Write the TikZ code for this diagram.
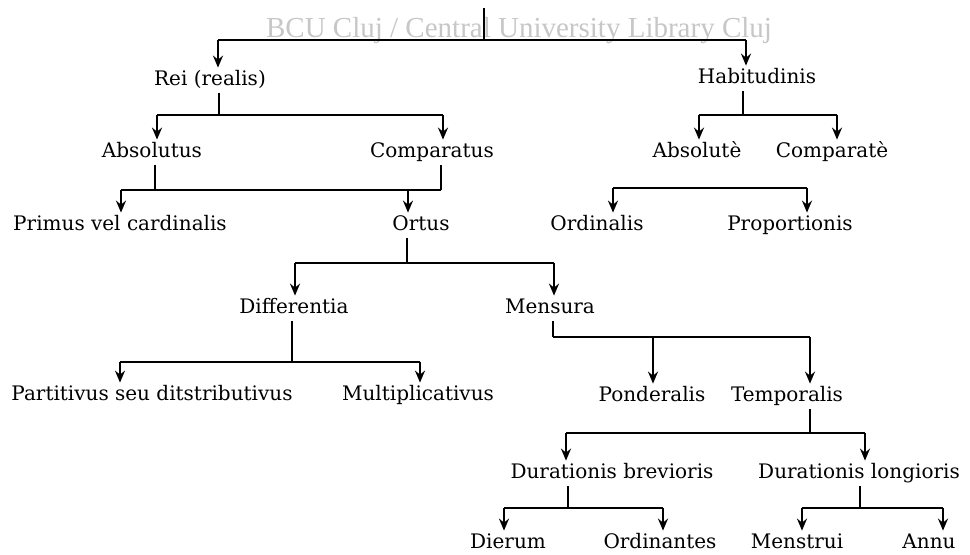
\documentclass[tikz,border=0pt]{standalone}
\usepackage{fontspec}
\setmainfont{DejaVu Serif}
\newfontfamily\markfont{Liberation Serif}
\usetikzlibrary{arrows.meta}

\begin{document}
\begin{tikzpicture}[x=0.5pt, y=-0.5pt,
	term/.style={anchor=base, inner xsep=0pt, inner ysep=1.2pt, text height=7.3pt, text depth=2.5pt, font=\fontsize{10}{12}\selectfont},
	bar/.style={line width=0.7pt},
	down/.style={line width=1pt, -{Stealth[length=6pt, width=5pt, inset=2pt]}}]
			%%%%% FRAME %%%%%
			\fill[white] (0, 0) rectangle (970, 554);
			\useasboundingbox (0, 0) rectangle (970, 554);
			
			\node[anchor=base, text=black!22, font=\markfont\fontsize{14.5}{16}\selectfont] (wm) at (519, 37) {BCU Cluj / Central University Library Cluj};
			
			%%%%% TERMS %%%%%
			\node[term] (rei) at (210, 85) {Rei (realis)};
			\node[term] (hab) at (757, 83) {Habitudinis};
			
			\node[term] (abs) at (152, 157) {Absolutus};
			\node[term] (comp) at (432, 157) {Comparatus};
			\node[term] (abse) at (697, 157) {Absolutè};
			\node[term] (compe) at (832, 157) {Comparatè};
			
			\node[term] (prim) at (120, 230) {Primus vel cardinalis};
			\node[term] (ortus) at (421, 230) {Ortus};
			\node[term] (ord) at (597, 230) {Ordinalis};
			\node[term] (prop) at (790, 230) {Proportionis};
			
			\node[term] (diff) at (294, 313) {Differentia};
			\node[term] (mens) at (550, 313) {Mensura};
			
			\node[term] (part) at (152, 400) {Partitivus seu ditstributivus};
			\node[term] (mult) at (418, 400) {Multiplicativus};
			\node[term] (pond) at (652, 401) {Ponderalis};
			\node[term] (temp) at (787, 401) {Temporalis};
			
			\node[term] (brev) at (612, 478) {Durationis brevioris};
			\node[term] (long) at (859, 478) {Durationis longioris};
			
			\node[term] (dier) at (508, 548) {Dierum};
			\node[term] (ordin) at (660, 548) {Ordinantes};
			\node[term] (menst) at (797, 548) {Menstrui};
			\node[term] (annu) at (929, 548) {Annu};
			
			%%%%% BARS %%%%%
			\coordinate (top) at (484, 8);
			\coordinate (t0) at (484, 40);
			\coordinate (t1) at (218, 40);
			\coordinate (t2) at (746, 40);
			\draw[bar] (top) -- (t0);
			\draw[bar] (t1) -- (t2);
			\draw[down] (t1) -- (t1 |- rei.north);
			\draw[down] (t2) -- (t2 |- hab.north);
			
			\coordinate (r0) at (219, 115);
			\coordinate (r1) at (157, 115);
			\coordinate (r2) at (443, 115);
			\draw[bar] (rei.south -| r0) -- (r0);
			\draw[bar] (r1) -- (r2);
			\draw[down] (r1) -- (r1 |- abs.north);
			\draw[down] (r2) -- (r2 |- comp.north);
			
			\coordinate (h0) at (743, 115);
			\coordinate (h1) at (699, 115);
			\coordinate (h2) at (837, 115);
			\draw[bar] (hab.south -| h0) -- (h0);
			\draw[bar] (h1) -- (h2);
			\draw[down] (h1) -- (h1 |- abse.north);
			\draw[down] (h2) -- (h2 |- compe.north);
			
			\coordinate (a0) at (155, 190);
			\coordinate (c0) at (441, 190);
			\coordinate (p1) at (121, 190);
			\coordinate (p2) at (408, 190);
			\draw[bar] (abs.south -| a0) -- (a0);
			\draw[bar] (comp.south -| c0) -- (c0);
			\draw[bar] (p1) -- (c0);
			\draw[down] (p1) -- (p1 |- prim.north);
			\draw[down] (p2) -- (p2 |- ortus.north);
			
			\coordinate (o1) at (613, 188);
			\coordinate (o2) at (807, 188);
			\draw[bar] (o1) -- (o2);
			\draw[down] (o1) -- (o1 |- ord.north);
			\draw[down] (o2) -- (o2 |- prop.north);
			
			\coordinate (u0) at (407, 263);
			\coordinate (u1) at (295, 263);
			\coordinate (u2) at (554, 263);
			\draw[bar] (ortus.south -| u0) -- (u0);
			\draw[bar] (u1) -- (u2);
			\draw[down] (u1) -- (u1 |- diff.north);
			\draw[down] (u2) -- (u2 |- mens.north);
			
			\coordinate (d0) at (292, 362);
			\coordinate (d1) at (120, 362);
			\coordinate (d2) at (420, 362);
			\draw[bar] (diff.south -| d0) -- (d0);
			\draw[bar] (d1) -- (d2);
			\draw[down] (d1) -- (d1 |- part.north);
			\draw[down] (d2) -- (d2 |- mult.north);
			
			\coordinate (m0) at (553, 337);
			\coordinate (m1) at (653, 337);
			\coordinate (m2) at (810, 337);
			\draw[bar] (mens.south -| m0) -- (m0);
			\draw[bar] (m0) -- (m2);
			\draw[down] (m1) -- (m1 |- pond.north);
			\draw[down] (m2) -- (m2 |- temp.north);
			
			\coordinate (e0) at (810, 433);
			\coordinate (e1) at (566, 433);
			\coordinate (e2) at (865, 433);
			\draw[bar] (temp.south -| e0) -- (e0);
			\draw[bar] (e1) -- (e2);
			\draw[down] (e1) -- (e1 |- brev.north);
			\draw[down] (e2) -- (e2 |- long.north);
			
			\coordinate (b0) at (568, 508);
			\coordinate (b1) at (504, 508);
			\coordinate (b2) at (663, 508);
			\draw[bar] (brev.south -| b0) -- (b0);
			\draw[bar] (b1) -- (b2);
			\draw[down] (b1) -- (b1 |- dier.north);
			\draw[down] (b2) -- (b2 |- ordin.north);
			
			\coordinate (l0) at (860, 508);
			\coordinate (l1) at (802, 508);
			\coordinate (l2) at (943, 508);
			\draw[bar] (long.south -| l0) -- (l0);
			\draw[bar] (l1) -- (l2);
			\draw[down] (l1) -- (l1 |- menst.north);
			\draw[down] (l2) -- (l2 |- annu.north);
\end{tikzpicture}
\end{document}
